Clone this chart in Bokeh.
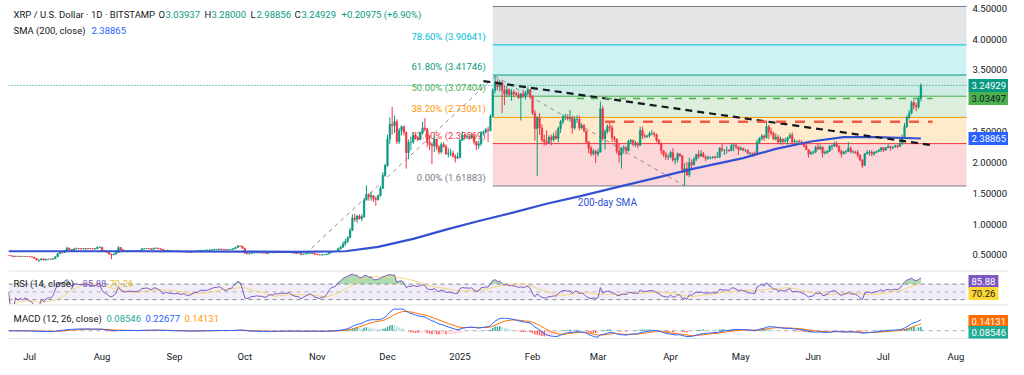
import numpy as np
import pandas as pd
from bokeh.plotting import figure
from bokeh.layouts import column
from bokeh.models import (Range1d, FixedTicker, CustomJSTickFormatter,
                          Label, Span, BoxAnnotation, ColumnDataSource)
from bokeh.embed import file_html
from bokeh.resources import INLINE

FONT = "Roboto"
TXT = "#131722"
UP = "#089981"
DOWN = "#f23645"

# ---------------- daily OHLC ----------------
close_jun24 = [0.488, 0.485, 0.474, 0.481, 0.476, 0.478, 0.474, 0.476, 0.474]
high_jun24 = [0.497, 0.492, 0.487, 0.485, 0.484, 0.483, 0.480, 0.479, 0.480]
low_jun24 = [0.484, 0.482, 0.460, 0.470, 0.472, 0.472, 0.470, 0.472, 0.469]

close_jul24 = [0.470, 0.466, 0.446, 0.418, 0.420, 0.438, 0.418, 0.428, 0.432, 0.431,
               0.440, 0.470, 0.520, 0.540, 0.538, 0.570, 0.610, 0.590, 0.560, 0.600,
               0.605, 0.600, 0.598, 0.604, 0.600, 0.606, 0.600, 0.596, 0.600, 0.624, 0.626]
high_jul24 = [0.480, 0.472, 0.467, 0.448, 0.425, 0.442, 0.440, 0.436, 0.440, 0.442,
              0.445, 0.476, 0.530, 0.546, 0.548, 0.580, 0.635, 0.620, 0.595, 0.605,
              0.620, 0.615, 0.610, 0.612, 0.610, 0.612, 0.612, 0.604, 0.615, 0.636, 0.640]
low_jul24 = [0.466, 0.460, 0.440, 0.410, 0.385, 0.415, 0.412, 0.405, 0.422, 0.425,
             0.425, 0.436, 0.468, 0.515, 0.525, 0.535, 0.565, 0.570, 0.545, 0.555,
             0.590, 0.590, 0.585, 0.590, 0.570, 0.595, 0.594, 0.588, 0.592, 0.598, 0.610]

close_aug24 = [0.575, 0.555, 0.545, 0.515, 0.505, 0.515, 0.540, 0.620, 0.585, 0.565,
               0.555, 0.565, 0.570, 0.565, 0.565, 0.565, 0.570, 0.600, 0.600, 0.605,
               0.600, 0.590, 0.610, 0.610, 0.600, 0.590, 0.560, 0.575, 0.570, 0.565, 0.565]
high_aug24 = [0.628, 0.580, 0.560, 0.548, 0.520, 0.525, 0.555, 0.640, 0.625, 0.590,
              0.575, 0.570, 0.580, 0.578, 0.575, 0.572, 0.575, 0.605, 0.610, 0.615,
              0.612, 0.605, 0.618, 0.620, 0.615, 0.605, 0.595, 0.580, 0.585, 0.575, 0.572]
low_aug24 = [0.560, 0.550, 0.535, 0.505, 0.430, 0.495, 0.505, 0.535, 0.575, 0.560,
             0.548, 0.545, 0.558, 0.560, 0.555, 0.558, 0.562, 0.565, 0.590, 0.595,
             0.592, 0.585, 0.588, 0.602, 0.596, 0.585, 0.555, 0.550, 0.565, 0.560, 0.558]

close_sep24 = [0.560, 0.565, 0.560, 0.555, 0.560, 0.548, 0.545, 0.550, 0.560, 0.562,
               0.565, 0.575, 0.575, 0.575, 0.575, 0.580, 0.585, 0.590, 0.590, 0.595,
               0.590, 0.585, 0.580, 0.590, 0.590, 0.600, 0.620, 0.645, 0.640, 0.610]
high_sep24 = [0.568, 0.570, 0.572, 0.565, 0.568, 0.565, 0.552, 0.555, 0.565, 0.572,
              0.570, 0.580, 0.580, 0.585, 0.590, 0.590, 0.595, 0.600, 0.598, 0.605,
              0.600, 0.595, 0.592, 0.595, 0.598, 0.610, 0.630, 0.660, 0.655, 0.648]
low_sep24 = [0.552, 0.548, 0.555, 0.540, 0.552, 0.530, 0.538, 0.540, 0.545, 0.555,
             0.552, 0.560, 0.565, 0.568, 0.570, 0.570, 0.575, 0.578, 0.580, 0.585,
             0.585, 0.578, 0.575, 0.578, 0.580, 0.585, 0.598, 0.615, 0.630, 0.600]

close_oct24 = [0.530, 0.520, 0.525, 0.535, 0.535, 0.540, 0.535, 0.535, 0.530, 0.525,
               0.535, 0.540, 0.535, 0.545, 0.540, 0.545, 0.545, 0.545, 0.545, 0.550,
               0.535, 0.530, 0.525, 0.525, 0.510, 0.515, 0.520, 0.525, 0.530, 0.520, 0.510]
high_oct24 = [0.615, 0.540, 0.530, 0.540, 0.540, 0.545, 0.548, 0.540, 0.540, 0.535,
              0.540, 0.545, 0.545, 0.552, 0.552, 0.550, 0.550, 0.552, 0.550, 0.555,
              0.552, 0.540, 0.535, 0.530, 0.530, 0.520, 0.525, 0.530, 0.540, 0.535, 0.525]
low_oct24 = [0.515, 0.510, 0.505, 0.520, 0.528, 0.530, 0.530, 0.528, 0.525, 0.518,
             0.522, 0.532, 0.530, 0.530, 0.532, 0.535, 0.538, 0.540, 0.540, 0.540,
             0.530, 0.525, 0.515, 0.518, 0.495, 0.505, 0.510, 0.515, 0.522, 0.515, 0.505]

close_nov24 = [0.505, 0.500, 0.505, 0.505, 0.515, 0.535, 0.550, 0.555, 0.565, 0.600,
               0.625, 0.680, 0.720, 0.780, 0.900, 1.100, 1.080, 1.130, 1.090, 1.120,
               1.390, 1.480, 1.440, 1.460, 1.410, 1.400, 1.460, 1.580, 1.790, 1.950]
high_nov24 = [0.515, 0.510, 0.510, 0.512, 0.520, 0.545, 0.560, 0.565, 0.575, 0.620,
              0.650, 0.720, 0.760, 0.800, 0.940, 1.160, 1.170, 1.150, 1.160, 1.160,
              1.420, 1.630, 1.500, 1.520, 1.470, 1.450, 1.480, 1.620, 1.840, 1.980]
low_nov24 = [0.495, 0.495, 0.490, 0.495, 0.500, 0.510, 0.530, 0.545, 0.550, 0.560,
             0.590, 0.620, 0.650, 0.700, 0.770, 0.890, 1.040, 1.020, 1.070, 1.050,
             1.100, 1.380, 1.380, 1.380, 1.360, 1.300, 1.380, 1.450, 1.570, 1.770]

close_dec24 = [2.380, 2.620, 2.600, 2.660, 2.340, 2.520, 2.580, 2.490, 2.160, 2.330,
               2.330, 2.440, 2.400, 2.370, 2.480, 2.560, 2.540, 2.320, 2.290, 2.270,
               2.380, 2.250, 2.170, 2.290, 2.260, 2.140, 2.150, 2.150, 2.100, 2.070, 2.080]
high_dec24 = [2.450, 2.730, 2.900, 2.760, 2.700, 2.560, 2.600, 2.600, 2.500, 2.370,
              2.420, 2.480, 2.470, 2.430, 2.500, 2.660, 2.720, 2.560, 2.440, 2.330,
              2.440, 2.380, 2.280, 2.330, 2.330, 2.290, 2.230, 2.220, 2.190, 2.130, 2.160]
low_dec24 = [1.930, 2.300, 2.450, 2.480, 2.300, 2.300, 2.440, 2.440, 1.900, 2.050,
             2.200, 2.300, 2.370, 2.340, 2.360, 2.450, 2.500, 2.250, 2.200, 1.970,
             2.170, 2.200, 2.130, 2.140, 2.240, 2.120, 2.080, 2.100, 2.080, 2.000, 2.060]

close_jan25 = [2.360, 2.440, 2.420, 2.420, 2.410, 2.430, 2.330, 2.280, 2.300, 2.480,
               2.490, 2.530, 2.520, 2.750, 3.170, 3.310, 3.230, 3.290, 3.170, 3.110,
               3.180, 3.100, 3.140, 3.120, 3.100, 3.050, 3.110, 3.070, 3.120, 3.180, 3.070]
high_jan25 = [2.380, 2.500, 2.460, 2.450, 2.440, 2.480, 2.440, 2.350, 2.350, 2.510,
              2.520, 2.560, 2.580, 2.780, 3.200, 3.400, 3.350, 3.340, 3.320, 3.250,
              3.240, 3.200, 3.190, 3.180, 3.150, 3.140, 3.130, 3.180, 3.160, 3.220, 3.190]
low_jan25 = [2.070, 2.350, 2.370, 2.380, 2.370, 2.380, 2.290, 2.200, 2.220, 2.270,
             2.440, 2.470, 2.330, 2.500, 2.730, 3.120, 3.170, 3.150, 2.800, 2.930,
             3.060, 3.070, 3.000, 3.060, 3.080, 3.030, 2.680, 3.050, 3.020, 3.090, 3.030]

close_feb25 = [2.800, 2.550, 2.730, 2.560, 2.370, 2.330, 2.320, 2.410, 2.370, 2.430,
               2.390, 2.550, 2.660, 2.740, 2.740, 2.710, 2.730, 2.560, 2.700, 2.700,
               2.560, 2.600, 2.510, 2.330, 2.230, 2.140, 2.180, 2.140]
high_feb25 = [3.090, 2.850, 2.750, 2.800, 2.620, 2.450, 2.520, 2.440, 2.450, 2.480,
              2.520, 2.580, 2.690, 2.780, 2.790, 2.780, 2.850, 2.760, 2.750, 2.760,
              2.760, 2.640, 2.620, 2.520, 2.350, 2.270, 2.220, 2.200]
low_feb25 = [2.770, 2.350, 1.780, 2.450, 2.330, 2.270, 2.280, 2.300, 2.280, 2.340,
             2.370, 2.330, 2.480, 2.620, 2.690, 2.680, 2.660, 2.470, 2.530, 2.640,
             2.520, 2.540, 2.490, 2.300, 2.150, 2.100, 2.110, 1.990]

close_mar25 = [2.170, 2.870, 2.390, 2.500, 2.580, 2.560, 2.400, 2.380, 2.180, 2.120,
               2.230, 2.240, 2.190, 2.340, 2.360, 2.290, 2.300, 2.280, 2.520, 2.430,
               2.420, 2.430, 2.470, 2.470, 2.450, 2.360, 2.310, 2.190, 2.130, 2.090, 2.090]
high_mar25 = [2.220, 2.990, 2.920, 2.540, 2.620, 2.660, 2.610, 2.430, 2.390, 2.300,
              2.250, 2.280, 2.260, 2.370, 2.380, 2.370, 2.350, 2.330, 2.580, 2.580,
              2.470, 2.450, 2.500, 2.530, 2.500, 2.470, 2.380, 2.320, 2.200, 2.170, 2.130]
low_mar25 = [2.100, 2.160, 2.350, 2.210, 2.470, 2.500, 2.330, 2.330, 2.140, 2.000,
             1.900, 2.150, 2.130, 2.180, 2.300, 2.260, 2.250, 2.230, 2.270, 2.380,
             2.390, 2.400, 2.400, 2.440, 2.410, 2.330, 2.290, 2.130, 2.090, 2.040, 2.040]

close_apr25 = [2.160, 2.040, 2.050, 2.140, 2.110, 1.880, 1.900, 1.800, 2.000, 1.960,
               2.050, 2.130, 2.100, 2.140, 2.090, 2.070, 2.080, 2.080, 2.090, 2.080,
               2.090, 2.230, 2.200, 2.200, 2.200, 2.190, 2.270, 2.280, 2.250, 2.210]
high_apr25 = [2.190, 2.230, 2.080, 2.160, 2.150, 2.120, 1.990, 2.010, 2.080, 2.050,
              2.090, 2.140, 2.200, 2.200, 2.170, 2.110, 2.110, 2.100, 2.100, 2.110,
              2.170, 2.250, 2.300, 2.210, 2.260, 2.220, 2.300, 2.310, 2.320, 2.260]
low_apr25 = [2.070, 2.010, 1.970, 2.000, 2.090, 1.830, 1.620, 1.780, 1.760, 1.880,
             1.950, 2.020, 2.060, 2.100, 2.080, 2.020, 2.040, 2.050, 2.060, 2.060,
             2.080, 2.070, 2.170, 2.120, 2.140, 2.170, 2.190, 2.180, 2.220, 2.120]

close_may25 = [2.230, 2.200, 2.200, 2.150, 2.150, 2.140, 2.130, 2.330, 2.390, 2.430,
               2.400, 2.580, 2.500, 2.470, 2.380, 2.410, 2.330, 2.380, 2.340, 2.350,
               2.400, 2.440, 2.330, 2.340, 2.340, 2.330, 2.300, 2.270, 2.210, 2.140, 2.160]
high_may25 = [2.260, 2.240, 2.220, 2.210, 2.170, 2.160, 2.180, 2.370, 2.410, 2.460,
              2.450, 2.650, 2.610, 2.560, 2.500, 2.470, 2.450, 2.420, 2.390, 2.400,
              2.420, 2.480, 2.490, 2.380, 2.360, 2.370, 2.360, 2.320, 2.310, 2.210, 2.190]
low_may25 = [2.190, 2.180, 2.170, 2.130, 2.090, 2.090, 2.100, 2.120, 2.300, 2.360,
             2.350, 2.390, 2.380, 2.440, 2.360, 2.350, 2.310, 2.290, 2.290, 2.320,
             2.290, 2.380, 2.300, 2.320, 2.300, 2.310, 2.280, 2.240, 2.200, 2.080, 2.120]

close_jun25 = [2.170, 2.250, 2.220, 2.250, 2.150, 2.160, 2.180, 2.260, 2.270, 2.300,
               2.260, 2.180, 2.140, 2.170, 2.180, 2.230, 2.170, 2.170, 2.160, 2.120,
               2.040, 1.950, 2.140, 2.160, 2.170, 2.140, 2.160, 2.180, 2.200, 2.240]
high_jun25 = [2.190, 2.270, 2.300, 2.290, 2.260, 2.200, 2.200, 2.280, 2.290, 2.340,
              2.340, 2.280, 2.210, 2.190, 2.200, 2.330, 2.260, 2.200, 2.190, 2.200,
              2.130, 2.050, 2.150, 2.200, 2.200, 2.200, 2.180, 2.190, 2.220, 2.250]
low_jun25 = [2.130, 2.150, 2.200, 2.200, 2.080, 2.130, 2.140, 2.170, 2.200, 2.250,
             2.240, 2.160, 2.080, 2.130, 2.140, 2.170, 2.150, 2.140, 2.140, 2.080,
             2.020, 1.910, 1.950, 2.130, 2.110, 2.100, 2.110, 2.150, 2.170, 2.170]

close_jul25 = [2.200, 2.240, 2.260, 2.240, 2.250, 2.270, 2.260, 2.300, 2.400, 2.580,
               2.730, 2.800, 2.970, 2.920, 2.900, 3.03937, 3.24929]
high_jul25 = [2.240, 2.250, 2.300, 2.270, 2.260, 2.290, 2.290, 2.340, 2.450, 2.640,
              2.760, 2.850, 3.000, 3.010, 2.970, 3.070, 3.28000]
low_jul25 = [2.170, 2.190, 2.230, 2.190, 2.210, 2.240, 2.230, 2.250, 2.290, 2.400,
             2.560, 2.700, 2.780, 2.860, 2.830, 2.870, 2.98856]

first_open = 0.495

# 200-day SMA
sma_dates = ["2024-06-22", "2024-08-15", "2024-10-01", "2024-10-23", "2024-11-13",
             "2024-11-27", "2024-12-12", "2024-12-26", "2025-01-09", "2025-01-24",
             "2025-02-07", "2025-02-21", "2025-03-07", "2025-03-28", "2025-04-11",
             "2025-05-02", "2025-05-16", "2025-05-31", "2025-06-14", "2025-06-28", "2025-07-17"]
sma_values = [0.56, 0.56, 0.555, 0.55, 0.56, 0.63, 0.76, 0.91, 1.05, 1.19,
              1.33, 1.45, 1.58, 1.77, 1.90, 2.07, 2.22, 2.34, 2.41, 2.41, 2.38865]

# Fibonacci retracement
fib_pct = [0.0, 23.6, 38.2, 50.0, 61.8, 78.6, 100.0]
fib_price = [1.61883, 2.30569, 2.73061, 3.07404, 3.41746, 3.90641, 4.52925]
fib_colors = ["#787b86", "#f23645", "#ff9800", "#4caf50", "#089981", "#00bcd4", "#787b86"]
fib_start = "2025-01-15"

# drawn lines
trend_dates = ["2025-01-11", "2025-07-22"]
trend_prices = [3.32, 2.28]
red_level_dates = ["2025-03-04", "2025-07-22"]
red_level = 2.66
green_level_dates = ["2025-02-20", "2025-07-22"]
green_level = 3.03497
diag1_dates = ["2024-10-27", "2025-01-16"]
diag1_prices = [0.52, 3.40]
diag2_dates = ["2025-01-16", "2025-04-07"]
diag2_prices = [3.40, 1.62]

last_price = 3.24929
sma_last = 2.38865

month_ticks = ["2024-07-01", "2024-08-01", "2024-09-01", "2024-10-01", "2024-11-01",
               "2024-12-01", "2025-01-01", "2025-02-01", "2025-03-01", "2025-04-01",
               "2025-05-01", "2025-06-01", "2025-07-01", "2025-08-01"]
month_names = ["Jul", "Aug", "Sep", "Oct", "Nov", "Dec", "2025", "Feb", "Mar", "Apr",
               "May", "Jun", "Jul", "Aug"]
price_ticks = [0.5, 1.0, 1.5, 2.0, 2.5, 3.0, 3.5, 4.0, 4.5]

# ---------------- assemble ----------------
months = [("2024-06-22", close_jun24, high_jun24, low_jun24),
          ("2024-07-01", close_jul24, high_jul24, low_jul24),
          ("2024-08-01", close_aug24, high_aug24, low_aug24),
          ("2024-09-01", close_sep24, high_sep24, low_sep24),
          ("2024-10-01", close_oct24, high_oct24, low_oct24),
          ("2024-11-01", close_nov24, high_nov24, low_nov24),
          ("2024-12-01", close_dec24, high_dec24, low_dec24),
          ("2025-01-01", close_jan25, high_jan25, low_jan25),
          ("2025-02-01", close_feb25, high_feb25, low_feb25),
          ("2025-03-01", close_mar25, high_mar25, low_mar25),
          ("2025-04-01", close_apr25, high_apr25, low_apr25),
          ("2025-05-01", close_may25, high_may25, low_may25),
          ("2025-06-01", close_jun25, high_jun25, low_jun25),
          ("2025-07-01", close_jul25, high_jul25, low_jul25)]

ORIGIN = pd.Timestamp("2024-06-22")


def day(s):
    return float((pd.Timestamp(s) - ORIGIN).days)


dates, closes, highs, lows = [], [], [], []
for i, (start, c, h, l) in enumerate(months):
    assert len(c) == len(h) == len(l), (start, len(c), len(h), len(l))
    d = pd.date_range(start, periods=len(c), freq="D")
    if i < len(months) - 1:
        assert (d[-1] + pd.Timedelta(days=1)).day == 1, (start, len(c))
    dates.extend(d)
    closes.extend(c)
    highs.extend(h)
    lows.extend(l)

x = np.array([(d - ORIGIN).days for d in dates], dtype=float)
close = np.array(closes)
high = np.array(highs)
low = np.array(lows)
opn = np.concatenate([[first_open], close[:-1]])
up = close >= opn
cols = np.where(up, UP, DOWN)

cs = ColumnDataSource(dict(x=x, o=opn, h=high, l=low, c=close,
                           top=np.maximum(opn, close), bot=np.minimum(opn, close), col=cols))

# indicators
s = pd.Series(close)
delta = s.diff().fillna(0.0)
gain = delta.clip(lower=0)
loss = (-delta).clip(lower=0)
ag = gain.ewm(alpha=1 / 14, adjust=True).mean()
al = loss.ewm(alpha=1 / 14, adjust=True).mean()
rsi = (100 - 100 / (1 + ag / al.replace(0, np.nan))).fillna(50.0)
rsi_ma = rsi.rolling(14, min_periods=1).mean()

ema12 = s.ewm(span=12, adjust=False).mean()
ema26 = s.ewm(span=26, adjust=False).mean()
macd = ema12 - ema26
signal = macd.ewm(span=9, adjust=False).mean()
hist = macd - signal
hprev = hist.shift(1).fillna(0)
hcol = np.where(hist >= 0, np.where(hist > hprev, "#26a69a", "#b2dfdb"),
                np.where(hist < hprev, "#ff5252", "#ffcdd2"))

# ---------------- layout geometry ----------------
FW = 1000          # frame width (chart area + price scale area)
CHART_W = 958      # width of the chart area (left of the price scale)
LB = 8             # left border
X0 = 0.0
XS = 409.5         # x where the price scale area begins
X1 = X0 + (XS - X0) * FW / CHART_W
HP, HR, HM, HX = 270, 34, 34, 21


def base_fig(h, yr, bottom=0):
    f = figure(frame_width=FW, frame_height=h, x_range=xr, y_range=yr,
               x_axis_location=("below" if bottom else None), y_axis_location=None,
               min_border_left=LB, min_border_right=0, min_border_top=0,
               min_border_bottom=bottom, output_backend="svg", toolbar_location=None,
               outline_line_color=None, background_fill_color="white",
               border_fill_color="white")
    f.xgrid.visible = False
    f.ygrid.visible = False
    return f


xr = Range1d(X0, X1)

# ---------------- price pane ----------------
p = base_fig(HP, Range1d(0.248, 4.626))

fs = day(fib_start)
zone_fill = ["#f23645", "#ff9800", "#4caf50", "#089981", "#00bcd4", "#787b86"]
p.quad(left=[fs] * 6, right=[XS] * 6, bottom=fib_price[:-1], top=fib_price[1:],
       fill_color=zone_fill, fill_alpha=0.2, line_color=None)
p.segment(x0=[fs] * 7, x1=[XS] * 7, y0=fib_price, y1=fib_price,
          line_color=fib_colors, line_width=1)

p.line([day(d) for d in diag1_dates], diag1_prices, line_color="#8a8d96",
       line_dash="4 4", line_width=1)
p.line([day(d) for d in diag2_dates], diag2_prices, line_color="#8a8d96",
       line_dash="4 4", line_width=1)

p.segment(x0="x", y0="l", x1="x", y1="h", line_color="col", line_width=1, source=cs)
p.vbar(x="x", width=0.7, top="top", bottom="bot", fill_color="col", line_color="col",
       line_width=0.5, source=cs)

p.line([day(d) for d in sma_dates], sma_values, line_color="#3451d1", line_width=2.2)

p.line([day(d) for d in trend_dates], trend_prices, line_color="#131722",
       line_dash="7 5", line_width=2.2)
p.line([day(d) for d in red_level_dates], [red_level, red_level], line_color="#ef5a4a",
       line_dash="10 9", line_width=2.5)
p.line([day(d) for d in green_level_dates], [green_level, green_level], line_color="#4caf50",
       line_dash="7 7", line_width=1.5)
p.line([X0, XS], [last_price, last_price], line_color="#089981", line_dash="1 2",
       line_width=1)

# fib labels
for pct, pr, col in zip(fib_pct[:-1], fib_price[:-1], fib_colors[:-1]):
    p.add_layout(Label(x=fs, y=pr, x_offset=-7, y_offset=3, text=f"{pct:.2f}% ({pr:.5f})",
                       text_align="right", text_baseline="bottom", text_color=col,
                       text_font=FONT, text_font_size="9.5px", level="underlay"))

p.add_layout(Label(x=day("2025-03-05"), y=1.35, text="200-day SMA", text_align="center",
                   text_baseline="middle", text_color="#2e4fd6", text_font=FONT,
                   text_font_size="10px"))

# price scale tick labels
for t in price_ticks:
    p.add_layout(Label(x=XS, y=t, x_offset=6, text=f"{t:.5f}", text_align="left",
                       text_baseline="middle", text_color=TXT, text_font=FONT,
                       text_font_size="9.5px"))


def hdr(fig, xpos, ypos, text, color, size="9.5px"):
    fig.add_layout(Label(x=xpos, y=ypos, x_units="screen", y_units="screen", text=text,
                         text_color=color, text_font=FONT, text_font_size=size,
                         text_baseline="middle", text_align="left"))


H1 = HP - 14
hdr(p, 5, H1, "XRP / U.S. Dollar · 1D · BITSTAMP", TXT)
hdr(p, 150, H1, "O", TXT)
hdr(p, 157, H1, "3.03937", UP)
hdr(p, 196, H1, "H", TXT)
hdr(p, 203, H1, "3.28000", UP)
hdr(p, 242, H1, "L", TXT)
hdr(p, 248, H1, "2.98856", UP)
hdr(p, 286, H1, "C", TXT)
hdr(p, 293, H1, "3.24929", UP)
hdr(p, 333, H1, "+0.20975 (+6.90%)", UP)
H2 = HP - 30
hdr(p, 5, H2, "SMA (200, close)", TXT)
hdr(p, 83, H2, "2.38865", "#2962ff")


def box(fig, ypos, yunits, text, bg, fg):
    fig.add_layout(Label(x=XS, y=ypos, y_units=yunits, x_offset=2, text=text,
                         text_color=fg, text_font=FONT, text_font_size="9.5px",
                         text_baseline="middle", text_align="left",
                         background_fill_color=bg, background_fill_alpha=1.0,
                         padding=3, level="overlay"))


box(p, last_price, "data", "3.24929", "#089981", "white")
box(p, green_level, "data", "3.03497", "#4caf50", "#131722")
box(p, sma_last, "data", "2.38865", "#2962ff", "white")

# ---------------- RSI pane ----------------
p2 = base_fig(HR, Range1d(17.5, 105))
p2.add_layout(Span(location=105, dimension="width", line_color="#e0e3eb", line_width=2))
p2.add_layout(BoxAnnotation(left=X0, right=XS, bottom=30, top=70, fill_color="#7e57c2",
                            fill_alpha=0.1, line_color=None, level="underlay"))
for lv, a in ((70, 0.9), (50, 0.5), (30, 0.9)):
    p2.line([X0, XS], [lv, lv], line_color="#787b86", line_dash="4 4", line_alpha=a,
            line_width=1)
p2.varea(x=x, y1=np.full(len(x), 70.0), y2=np.maximum(rsi.values, 70.0),
         fill_color="#4caf50", fill_alpha=0.45)
p2.line(x, rsi_ma.values, line_color="#f2d77a", line_width=1)
p2.line(x, rsi.values, line_color="#7e57c2", line_width=1)
hdr(p2, 5, HR - 13, "RSI (14, close)", TXT)
hdr(p2, 74, HR - 13, "85.88", "#7e57c2")
hdr(p2, 101, HR - 13, "70.26", "#e6c229")
box(p2, HR - 11, "screen", "85.88", "#7e57c2", "white")
box(p2, HR - 23, "screen", "70.26", "#fdd835", "#131722")

# ---------------- MACD pane ----------------
mtop = float(macd.max()) * 1.2
p3 = base_fig(HM, Range1d(-mtop * 8 / 27, mtop), bottom=HX)
p3.add_layout(Span(location=mtop, dimension="width", line_color="#e0e3eb", line_width=2))
p3.line([X0, XS], [0, 0], line_color="#787b86", line_dash="4 4", line_alpha=0.6,
        line_width=1)
p3.vbar(x=x, width=0.6, top=hist.values, bottom=0, fill_color=hcol, line_color=None)
p3.line(x, signal.values, line_color="#ff6d00", line_width=1)
p3.line(x, macd.values, line_color="#2962ff", line_width=1)
hdr(p3, 5, HM - 14, "MACD (12, 26, close)", TXT)
hdr(p3, 98, HM - 14, "0.08546", "#26a69a")
hdr(p3, 137, HM - 14, "0.22677", "#2962ff")
hdr(p3, 176, HM - 14, "0.14131", "#ff9800")
box(p3, HM - 17, "screen", "0.14131", "#ff6d00", "white")
box(p3, 6, "screen", "0.08546", "#22ab94", "white")

xa = p3.xaxis[0]
tick_days = [int(day(d)) for d in month_ticks]
xa.ticker = FixedTicker(ticks=tick_days)
xa.formatter = CustomJSTickFormatter(
    args=dict(month_days=tick_days, month_labels=month_names),
    code="const i = month_days.indexOf(Math.round(tick)); return i >= 0 ? month_labels[i] : '';")
xa.major_label_text_font = FONT
xa.major_label_text_font_size = "9.5px"
xa.major_label_text_color = TXT
xa.major_tick_line_color = None
xa.minor_tick_line_color = None
xa.axis_line_color = "#e0e3eb"
xa.major_label_standoff = 6

layout = column(p, p2, p3)
open("out.html", "w").write(file_html(layout, INLINE))
